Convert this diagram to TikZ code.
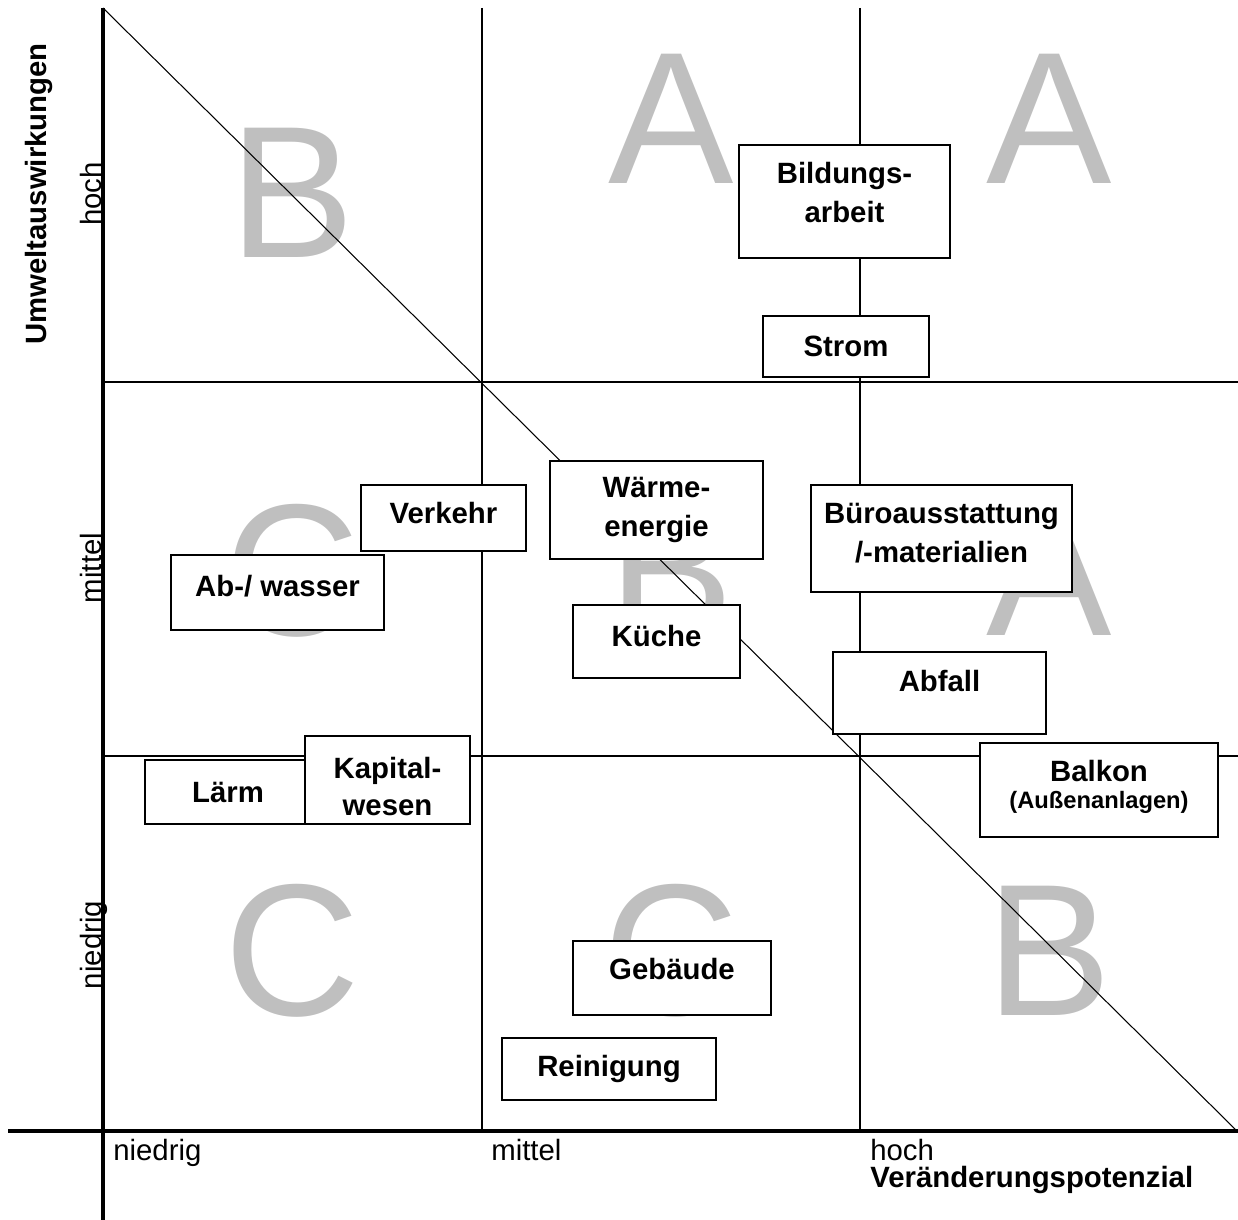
\documentclass[tikz,border=0pt]{standalone}
\usepackage{fontspec}
\setmainfont{Liberation Sans}
\usetikzlibrary{positioning}

\tikzset{
  topic/.style={draw, fill=white, line width=1.1pt, inner sep=0pt, align=center,
    font=\fontsize{16.7}{22.5}\selectfont\bfseries},
  grade/.style={text=black!25, anchor=base, inner sep=0pt,
    font=\fontsize{107}{107}\selectfont},
  level/.style={inner sep=0pt, font=\fontsize{16.7}{19}\selectfont},
  grid line/.style={line width=1.1pt},
  axis line/.style={line width=2.8pt},
}

\begin{document}
\begin{tikzpicture}[x=0.02cm, y=-0.02cm]
    \useasboundingbox (0,0) rectangle (1238,1220);
    % grade letters, one per cell
    \node[grade] (g_11) at (292,257)  {B};
    \node[grade] (g_12) at (671,183)  {A};
    \node[grade] (g_13) at (1049,183) {A};
    \node[grade] (g_21) at (292,635)  {C};
    \node[grade] (g_22) at (671,635)  {B};
    \node[grade] (g_23) at (1049,635) {A};
    \node[grade] (g_31) at (292,1015) {C};
    \node[grade] (g_32) at (671,1015) {C};
    \node[grade] (g_33) at (1049,1015){B};
    % grid
    \coordinate (top_0) at (103,8);
    \coordinate (top_1) at (482,8);
    \coordinate (top_2) at (860,8);
    \coordinate (bot_1) at (482,1131);
    \coordinate (bot_2) at (860,1131);
    \coordinate (row_1l) at (103,382);
    \coordinate (row_1r) at (1238,382);
    \coordinate (row_2l) at (103,756);
    \coordinate (row_2r) at (1238,756);
    \coordinate (diag_e) at (1236,1130);
    \draw[grid line] (top_1) -- (bot_1);
    \draw[grid line] (top_2) -- (bot_2);
    \draw[grid line] (row_1l) -- (row_1r);
    \draw[grid line] (row_2l) -- (row_2r);
    \draw[line width=0.6pt] (top_0) -- (diag_e);
    % topics
    \node[topic, minimum width=4.22cm, minimum height=2.26cm, text depth=0.36cm] (bildung)  at (844.5,201.5) {Bildungs-\\arbeit};
    \node[topic, minimum width=3.32cm, minimum height=1.22cm] (strom)    at (846,346.5)   {Strom};
    \node[topic, minimum width=4.26cm, minimum height=1.96cm] (waerme)   at (656.5,510)   {Wärme-\\energie};
    \node[topic, minimum width=5.22cm, minimum height=2.14cm, text depth=0.22cm] (buero)    at (941.5,538.5) {Büroausstattung\\/-materialien};
    \node[topic, minimum width=3.30cm, minimum height=1.32cm, text depth=0.2cm] (verkehr)  at (443.5,518)   {Verkehr};
    \node[topic, minimum width=4.26cm, minimum height=1.50cm, text depth=0.28cm] (abwasser) at (277.5,592.5) {Ab-/ wasser};
    \node[topic, minimum width=3.34cm, minimum height=1.46cm, text depth=0.24cm] (kueche)   at (656.5,641.5) {Küche};
    \node[topic, minimum width=4.26cm, minimum height=1.64cm, text depth=0.48cm] (abfall)   at (939.5,693)   {Abfall};
    \node[topic, minimum width=4.76cm, minimum height=1.88cm, text depth=0.22cm] (balkon)   at (1099,790)    {Balkon\\[-7pt]\fontsize{13.5}{14}\selectfont(Außenanlagen)};
    \node[topic, minimum width=3.32cm, minimum height=1.28cm] (laerm)    at (228,792)     {Lärm};
    \node[topic, minimum width=3.30cm, minimum height=1.76cm, text height=40pt] (kapital)  at (387.5,780)   {Kapital-\\[-2pt]wesen};
    \node[topic, minimum width=3.96cm, minimum height=1.48cm, text depth=0.36cm] (gebaeude) at (672,978)     {Gebäude};
    \node[topic, minimum width=4.28cm, minimum height=1.24cm] (reinigung) at (609,1069)   {Reinigung};
    % axes
    \coordinate (y_top) at (103,8);
    \coordinate (y_end) at (103,1220);
    \coordinate (x_beg) at (8,1131);
    \coordinate (x_end) at (1238,1131);
    \draw[axis line] (x_beg) -- (x_end);
    \draw[axis line] (y_top) -- (y_end);
    % axis labels
    \node[level, anchor=base west] (x_low)  at (113,1160) {niedrig};
    \node[level, anchor=base west] (x_mid)  at (491,1160) {mittel};
    \node[level, anchor=base west] (x_high) at (870,1160) {hoch};
    \node[level, anchor=base west, font=\fontsize{16.7}{19}\selectfont\bfseries] (x_title) at (870,1187) {Veränderungspotenzial};
    \node[level, anchor=base, rotate=90] (y_high) at (101,194) {hoch};
    \node[level, anchor=base, rotate=90] (y_mid)  at (101,568) {mittel};
    \node[level, anchor=base, rotate=90] (y_low)  at (101,945) {niedrig};
    \node[level, anchor=base, rotate=90, font=\fontsize{16.7}{19}\selectfont\bfseries] (y_title) at (47,194) {Umweltauswirkungen};
  \end{tikzpicture}
\end{document}
